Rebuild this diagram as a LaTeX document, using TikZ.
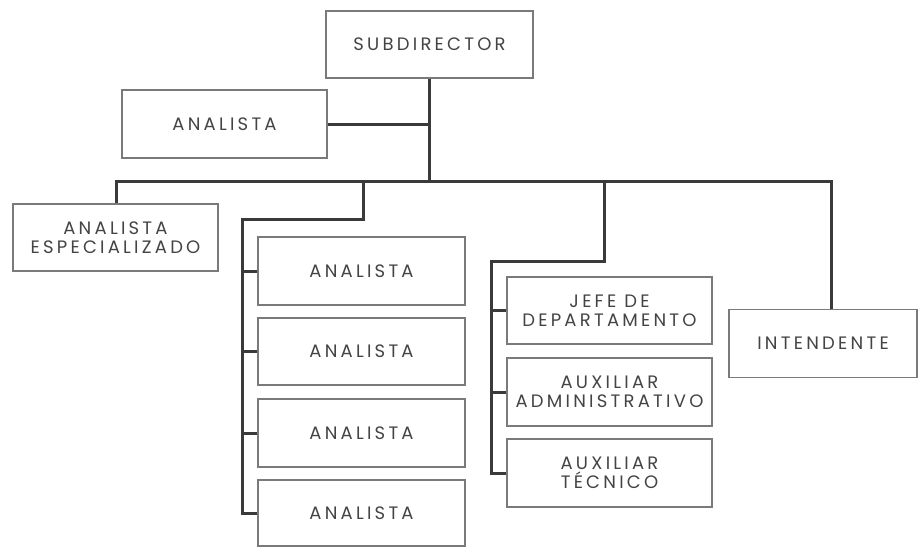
\documentclass[tikz,border=0pt]{standalone}
\usepackage{fontspec}
\setmainfont{Poppins}[LetterSpace=18]
\begin{document}
\begin{tikzpicture}[x=1pt,y=-1pt,
  box/.style={draw=boxgray,line width=1.4pt,fill=white,rectangle,minimum width=205pt,minimum height=67pt,inner sep=0pt,align=center,text=txtgray,font=\fontsize{18}{19}\selectfont},
  conn/.style={draw=linegray,line width=3pt}]
\definecolor{boxgray}{HTML}{7A7A7A}
\definecolor{linegray}{HTML}{3A3A3A}
\definecolor{txtgray}{HTML}{444444}
\useasboundingbox[fill=white] (0,0) rectangle (924,547);
\node[box,minimum width=207pt] (sub) at (429.5,44.5) {SUBDIRECTOR};
\node[box,minimum height=68pt] (an0) at (224.5,124) {ANALISTA};
\node[box] (ae) at (115.5,237.5) {ANALISTA\\ESPECIALIZADO};
\node[box,minimum width=207pt,minimum height=68pt] (a1) at (361.5,271) {ANALISTA};
\node[box,minimum width=207pt] (a2) at (361.5,351.5) {ANALISTA};
\node[box,minimum width=207pt,minimum height=68pt] (a3) at (361.5,433) {ANALISTA};
\node[box,minimum width=207pt,minimum height=66pt] (a4) at (361.5,513) {ANALISTA};
\node[box] (jefe) at (609.5,310.5) {JEFE DE\\DEPARTAMENTO};
\node[box,minimum height=68pt] (adm) at (609.5,392) {AUXILIAR\\ADMINISTRATIVO};
\node[box,minimum height=68pt] (tec) at (609.5,473) {AUXILIAR\\TÉCNICO};
\node[box,minimum width=188pt,minimum height=68pt] (int) at (823,343.5) {INTENDENTE};
\coordinate (busL) at (116,181);
\coordinate (busR) at (831,181);
\coordinate (g1) at (363,181);
\coordinate (g1b) at (363,219);
\coordinate (g1s) at (242,219);
\coordinate (g2) at (604,181);
\coordinate (g2b) at (604,261);
\coordinate (g2s) at (491,261);
\draw[conn] (sub.south) -- (sub.south |- busL);
\draw[conn] (an0.east) -- (an0.east -| sub.south);
\draw[conn] (ae.north -| busL) -- (busL) -- (busR) -- (busR |- int.north);
\draw[conn] (g1) -- (g1b) -- (g1s) -- (g1s |- a4.west) -- (a4.west);
\draw[conn] (g1s |- a1.west) -- (a1.west);
\draw[conn] (g1s |- a2.west) -- (a2.west);
\draw[conn] (g1s |- a3.west) -- (a3.west);
\draw[conn] (g2) -- (g2b) -- (g2s) -- (g2s |- tec.west) -- (tec.west);
\draw[conn] (g2s |- jefe.west) -- (jefe.west);
\draw[conn] (g2s |- adm.west) -- (adm.west);
\end{tikzpicture}
\end{document}
